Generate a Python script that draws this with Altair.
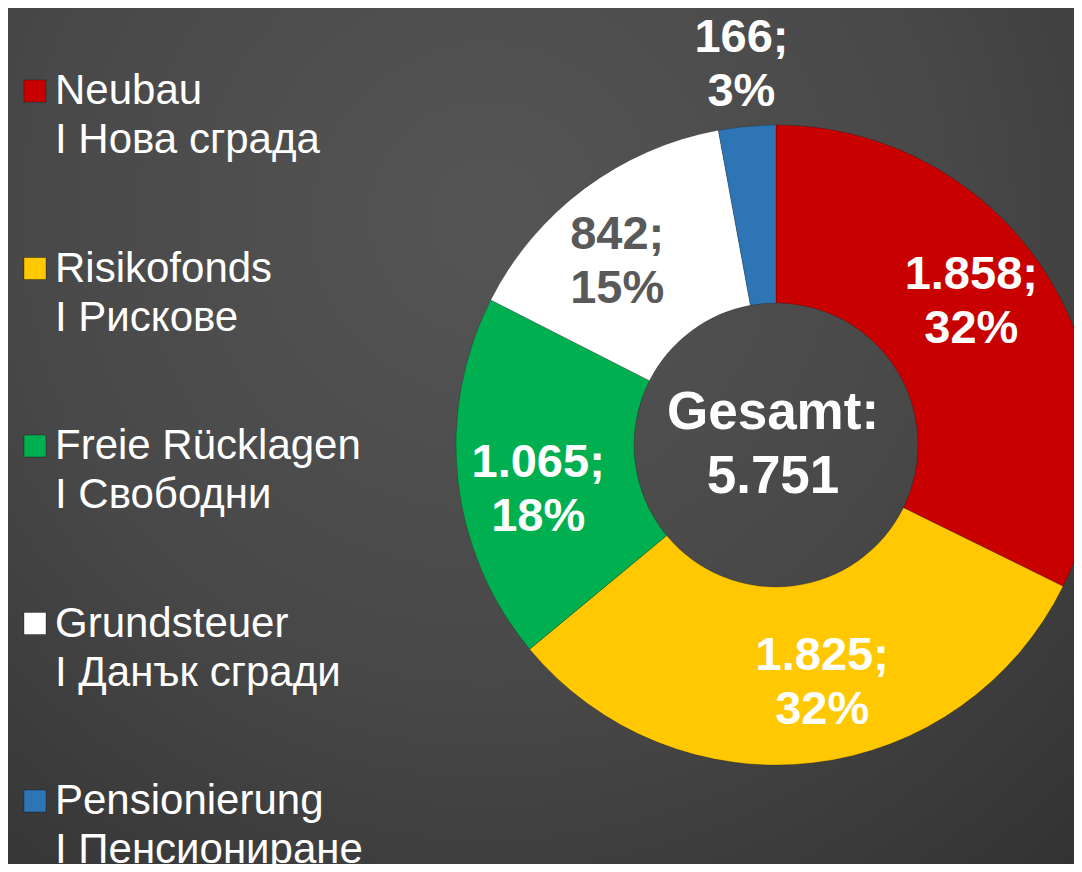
import altair as alt
import pandas as pd

# ---- data ----
categories = ["Neubau", "Risikofonds", "Freie Rücklagen", "Grundsteuer", "Pensionierung"]
categories_bg = ["I Нова сграда", "I Рискове", "I Свободни", "I Данък сгради", "I Пенсиониране"]
values = [1858, 1825, 1065, 842, 166]
value_labels = ["1.858", "1.825", "1.065", "842", "166"]
pct_labels = ["32%", "32%", "18%", "15%", "3%"]
total_title = "Gesamt:"
total_label = "5.751"
colors = ["#C80000", "#FFC800", "#00B050", "#FFFFFF", "#2E75B6"]

# ---- layout / style ----
W, H = 1066, 856
CX, CY = 768, 437
FONT = "Liberation Sans"

df = pd.DataFrame({
    "idx": list(range(len(categories))),
    "cat": categories,
    "cat_bg": categories_bg,
    "value": values,
    "vlabel": value_labels,
    "plabel": pct_labels,
})

color_scale = alt.Scale(domain=categories, range=colors)

bg = alt.Chart(pd.DataFrame({"k": [0]})).mark_rect(
    fill=alt.Gradient(
        gradient="radial",
        stops=[alt.GradientStop(color="#555555", offset=0),
               alt.GradientStop(color="#484848", offset=0.45),
               alt.GradientStop(color="#2a2a2a", offset=1)],
        x1=0.45, y1=0.3, x2=0.45, y2=0.3, r1=0, r2=0.95,
    )
).encode(x=alt.value(-10), x2=alt.value(W + 10), y=alt.value(-10), y2=alt.value(H + 10))

base = alt.Chart(df)

arcs = base.mark_arc(innerRadius=142, outerRadius=320, stroke="#000000",
                     strokeOpacity=0.2, strokeWidth=1).encode(
    theta=alt.Theta("value:Q", stack=True),
    color=alt.Color("cat:N", scale=color_scale, legend=None),
    order=alt.Order("idx:Q"),
    x=alt.value(CX),
    y=alt.value(CY),
)

labels = base.transform_joinaggregate(
    total="sum(value)"
).transform_window(
    cum="sum(value)", sort=[alt.SortField("idx")], frame=[None, 0]
).transform_calculate(
    label="datum.vlabel + ';\\n' + datum.plabel",
    mid="(datum.cum - datum.value / 2) / datum.total * 2 * PI"
        " - (datum.cat === 'Pensionierung' ? 0 : 0.075)",
    r="datum.cat === 'Pensionierung' ? 382 : 242",
    tc="datum.cat === 'Grundsteuer' ? '#595959' : '#FFFFFF'",
).mark_text(
    font=FONT, fontSize=47, fontWeight="bold", lineBreak="\n", lineHeight=54,
    align="center", baseline="middle", dy=-27,
).encode(
    theta=alt.Theta("mid:Q", scale=None, stack=False),
    radius=alt.Radius("r:Q", scale=None),
    text=alt.Text("label:N"),
    color=alt.Color("tc:N", scale=None),
    x=alt.value(CX),
    y=alt.value(CY),
)

center = alt.Chart(pd.DataFrame({"t": [total_title + "\n" + total_label]})).mark_text(
    font=FONT, fontSize=53, fontWeight="bold", color="#FFFFFF", lineBreak="\n",
    lineHeight=64, align="center", baseline="middle", dy=-32,
).encode(text="t:N", x=alt.value(CX - 3), y=alt.value(CY))

legend_y = alt.Y("idx:O", axis=None,
                 scale=alt.Scale(type="point", range=[83, 793], padding=0))

legend_sq = base.mark_square(size=484, filled=True, opacity=1,
                             stroke="#000000", strokeOpacity=0.3, strokeWidth=1).encode(
    y=legend_y,
    x=alt.value(27),
    color=alt.Color("cat:N", scale=color_scale, legend=None),
)

legend_txt = base.transform_calculate(
    lt="datum.cat + '\\n' + datum.cat_bg"
).mark_text(
    font=FONT, fontSize=42, color="#FFFFFF", lineBreak="\n", lineHeight=49,
    align="left", baseline="middle",
).encode(y=legend_y, x=alt.value(47), text="lt:N")

chart = alt.layer(bg, arcs, labels, center, legend_sq, legend_txt).properties(
    width=W, height=H, padding=0, autosize="none", background="#3a3a3a",
).configure_view(stroke=None)

chart.save("out.html", embed_options={"renderer": "svg", "actions": False})
